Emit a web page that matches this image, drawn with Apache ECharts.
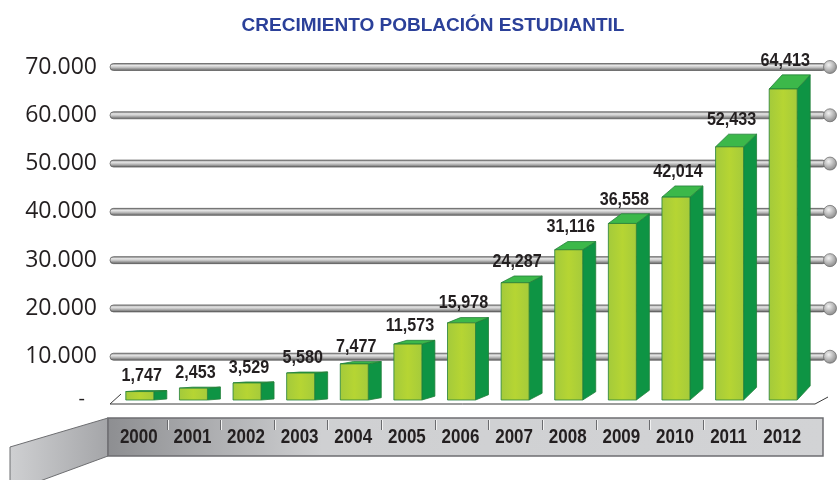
<!DOCTYPE html>
<html>
<head>
<meta charset="utf-8">
<script src="https://cdn.jsdelivr.net/npm/echarts@6/dist/echarts.min.js"></script>
<style>
  html, body { margin: 0; padding: 0; background: #fff; }
  #main { width: 837px; height: 480px; }
</style>
</head>
<body>
<div id="main"></div>
<script>
// datos
var anios = ['2000', '2001', '2002', '2003', '2004', '2005', '2006', '2007', '2008', '2009', '2010', '2011', '2012'];
var poblacion = [1747, 2453, 3529, 5580, 7477, 11573, 15978, 24287, 31116, 36558, 42014, 52433, 64413];
var lineasGuia = [10000, 20000, 30000, 40000, 50000, 60000, 70000];

var myChart = echarts.init(document.getElementById('main'));

var FONT_BOLD = '"Liberation Sans", Arial, sans-serif';

function fmtEje(v) {
    if (v === 0) return '{z|-}';
    return (v / 1000) + '.000';
}

// tubos grises con bola al final
function renderTubo(params, api) {
    var v = api.value(0);
    var p0 = api.coord([0, v]);
    var p1 = api.coord([1, v]);
    var x0 = p0[0], x1 = p1[0] - 4, y = p0[1];
    return {
        type: 'group',
        children: [
            {
                type: 'rect',
                shape: { x: x0, y: y - 3.5, width: x1 - x0, height: 7, r: 3.5 },
                style: {
                    fill: new echarts.graphic.LinearGradient(0, 0, 0, 1, [
                        { offset: 0, color: '#6e6e6e' },
                        { offset: 0.3, color: '#e6e6e6' },
                        { offset: 0.55, color: '#c2c2c2' },
                        { offset: 1, color: '#5a5a5a' }
                    ]),
                    stroke: '#555',
                    lineWidth: 0.7
                }
            },
            {
                type: 'circle',
                shape: { cx: p1[0], cy: y, r: 6.5 },
                style: {
                    fill: new echarts.graphic.RadialGradient(0.4, 0.35, 0.75, [
                        { offset: 0, color: '#f2f2f2' },
                        { offset: 1, color: '#7a7a7a' }
                    ]),
                    stroke: '#666',
                    lineWidth: 0.7
                }
            }
        ]
    };
}

// barras 3D
function renderBarra(params, api) {
    var i = api.value(0);
    var v = api.value(1);
    var base = api.coord([i, 0]);
    var tope = api.coord([i, v]);
    var lift = 5;
    var cx = base[0];
    var yb = base[1] - lift;
    var yt = tope[1] - lift;
    var w = 28, dx = 13;
    var dy = Math.max(1, (cx - 270) * 0.0275);
    var borde = '#23803a';
    return {
        type: 'group',
        children: [
            {
                type: 'polygon',
                shape: { points: [[cx + w / 2, yt], [cx + w / 2 + dx, yt - dy], [cx + w / 2 + dx, yb - dy], [cx + w / 2, yb]] },
                style: { fill: '#0e9444', stroke: borde, lineWidth: 0.8 }
            },
            {
                type: 'polygon',
                shape: { points: [[cx - w / 2, yt], [cx - w / 2 + dx, yt - dy], [cx + w / 2 + dx, yt - dy], [cx + w / 2, yt]] },
                style: { fill: '#3cb84a', stroke: borde, lineWidth: 0.8 }
            },
            {
                type: 'rect',
                shape: { x: cx - w / 2, y: yt, width: w, height: yb - yt },
                style: {
                    fill: new echarts.graphic.LinearGradient(0, 0, 1, 0, [
                        { offset: 0, color: '#a3ca3b' },
                        { offset: 0.5, color: '#b6d533' },
                        { offset: 1, color: '#a5cb3b' }
                    ]),
                    stroke: borde,
                    lineWidth: 0.8
                }
            },
            {
                type: 'text',
                x: cx + 2,
                y: yt - dy - 5,
                scaleX: 0.85,
                style: {
                    text: v.toLocaleString('en-US'),
                    fill: '#231f20',
                    font: 'bold 19px ' + FONT_BOLD,
                    textAlign: 'center',
                    textVerticalAlign: 'bottom'
                }
            }
        ]
    };
}

// etiquetas de año y separadores de la franja
function renderAnio(params, api) {
    var i = api.value(0);
    var b = api.coord([i, 0]);
    var y = b[1];
    var kids = [
        {
            type: 'text',
            x: b[0] - 1,
            y: y + 32,
            scaleX: 0.81,
            style: {
                text: anios[i],
                fill: '#231f20',
                font: 'bold 21px ' + FONT_BOLD,
                textAlign: 'center',
                textVerticalAlign: 'middle'
            }
        }
    ];
    if (i > 0) {
        var a = api.coord([i - 1, 0]);
        var x = Math.round((a[0] + b[0]) / 2) + 0.5;
        kids.push(
            { type: 'line', shape: { x1: x, y1: y + 15, x2: x, y2: y + 25 }, style: { stroke: '#6a6b6e', lineWidth: 1 } },
            { type: 'line', shape: { x1: x + 1, y1: y + 15, x2: x + 1, y2: y + 25 }, style: { stroke: '#f2f2f2', lineWidth: 1 } }
        );
    }
    return { type: 'group', children: kids };
}

var option = {
    backgroundColor: '#ffffff',
    animation: false,
    title: {
        text: 'CRECIMIENTO POBLACIÓN ESTUDIANTIL',
        left: 428,
        top: 11,
        textAlign: 'center',
        textStyle: {
            color: '#2b4099',
            fontSize: 19,
            fontWeight: 'bold',
            fontFamily: FONT_BOLD
        }
    },
    graphic: {
        elements: [
            {
                type: 'polygon',
                z: 1,
                shape: { points: [[10, 447], [108, 418], [108, 456], [10, 492]] },
                style: {
                    fill: new echarts.graphic.LinearGradient(0, 0, 1, 0, [
                        { offset: 0, color: '#cfd0d2' },
                        { offset: 1, color: '#a4a5a8' }
                    ]),
                    stroke: '#6d6e71',
                    lineWidth: 1
                }
            },
            {
                type: 'rect',
                z: 1,
                shape: { x: 108, y: 418, width: 715, height: 38 },
                style: {
                    fill: new echarts.graphic.LinearGradient(0, 0, 1, 0, [
                        { offset: 0, color: '#8d8e91' },
                        { offset: 0.3, color: '#cfd0d2' },
                        { offset: 1, color: '#d2d3d5' }
                    ]),
                    stroke: '#6d6e71',
                    lineWidth: 1.5
                }
            },
            {
                type: 'polyline',
                z: 1,
                shape: { points: [[121, 394], [110, 404], [815, 404], [828, 397]] },
                style: { stroke: '#3a3a3a', lineWidth: 1, fill: null }
            }
        ]
    },
    grid: [
        { left: 110, right: 7, top: 67, bottom: 75 },
        { left: 113, right: 27, top: 67, bottom: 75 }
    ],
    xAxis: [
        { type: 'value', gridIndex: 0, min: 0, max: 1, show: false },
        {
            type: 'category',
            gridIndex: 1,
            data: anios,
            axisLine: { show: false },
            axisTick: { show: false },
            axisLabel: { show: false }
        }
    ],
    yAxis: [
        {
            type: 'value',
            gridIndex: 0,
            min: 0,
            max: 70000,
            interval: 10000,
            z: 10,
            axisLine: { show: false },
            axisTick: { show: false },
            splitLine: { show: false },
            axisLabel: {
                margin: 13,
                color: '#231f20',
                fontSize: 23,
                fontFamily: '"Open Sans", sans-serif',
                formatter: fmtEje,
                rich: {
                    z: { fontSize: 20, color: '#231f20', padding: [0, 12, 12, 0] }
                }
            }
        },
        { type: 'value', gridIndex: 1, min: 0, max: 70000, interval: 10000, show: false }
    ],
    series: [
        {
            name: 'guias',
            type: 'custom',
            xAxisIndex: 0,
            yAxisIndex: 0,
            clip: false,
            z: 2,
            renderItem: renderTubo,
            data: lineasGuia.map(function (v) { return [v]; }),
            encode: { y: 0 }
        },
        {
            name: 'anios',
            type: 'custom',
            xAxisIndex: 1,
            yAxisIndex: 1,
            clip: false,
            z: 3,
            renderItem: renderAnio,
            data: anios.map(function (a, k) { return [k]; }),
            encode: { x: 0 }
        },
        {
            name: 'Población',
            type: 'custom',
            xAxisIndex: 1,
            yAxisIndex: 1,
            clip: false,
            z: 5,
            renderItem: renderBarra,
            data: poblacion.map(function (v, i) { return [i, v]; }),
            encode: { x: 0, y: 1 }
        }
    ]
};

myChart.setOption(option);
window.addEventListener('resize', function () {
    myChart.resize();
});
</script>
</body>
</html>
